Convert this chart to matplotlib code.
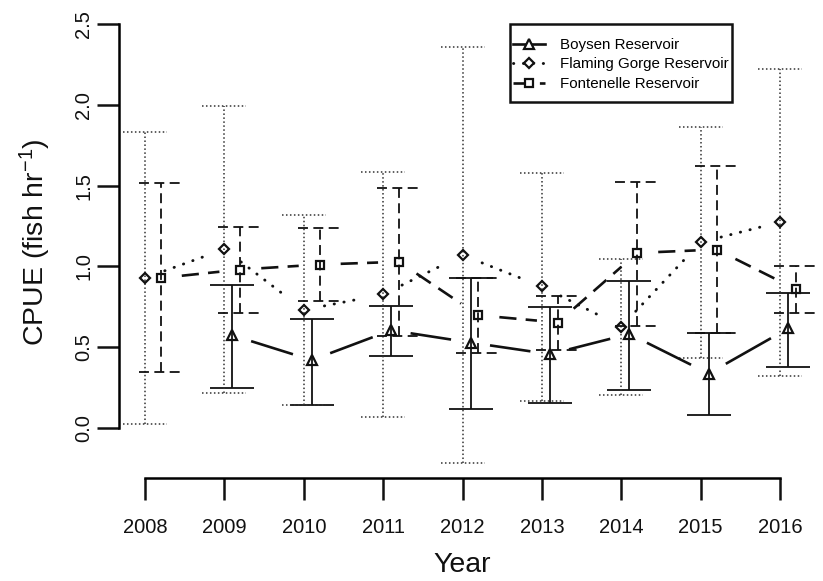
import numpy as np
import matplotlib
matplotlib.use("Agg")
import matplotlib.pyplot as plt
from matplotlib.lines import Line2D
from matplotlib.patches import Rectangle

# ---------------- data ----------------
years = [2008, 2009, 2010, 2011, 2012, 2013, 2014, 2015, 2016]

boysen_mean = [np.nan, 0.574, 0.420, 0.605, 0.529, 0.457, 0.582, 0.337, 0.616]
boysen_lo   = [np.nan, 0.250, 0.145, 0.444, 0.118, 0.157, 0.238, 0.080, 0.378]
boysen_hi   = [np.nan, 0.886, 0.673, 0.754, 0.926, 0.748, 0.909, 0.585, 0.838]

fg_mean = [0.929, 1.107, 0.731, 0.827, 1.070, 0.876, 0.628, 1.150, 1.275]
fg_lo   = [0.027, 0.217, 0.140, 0.068, -0.220, 0.170, 0.207, 0.436, 0.322]
fg_hi   = [1.830, 1.993, 1.318, 1.586, 2.358, 1.576, 1.045, 1.865, 2.222]

font_mean = [0.929, 0.981, 1.012, 1.029, 0.698, 0.653, 1.084, 1.105, 0.859]
font_lo   = [0.347, 0.713, 0.787, 0.572, 0.465, 0.481, 0.634, 0.589, 0.711]
font_hi   = [1.514, 1.245, 1.239, 1.487, 0.930, 0.818, 1.524, 1.623, 1.004]

series_names = ["Boysen Reservoir", "Flaming Gorge Reservoir", "Fontenelle Reservoir"]
y_ticks = [0.0, 0.5, 1.0, 1.5, 2.0, 2.5]
y_tick_labels = ["0.0", "0.5", "1.0", "1.5", "2.0", "2.5"]
x_tick_labels = [str(y) for y in years]

# ---------------- style ----------------
plt.rcParams["font.family"] = ["Liberation Sans", "DejaVu Sans"]
plt.rcParams["mathtext.fontset"] = "custom"
plt.rcParams["mathtext.rm"] = "Liberation Sans"
plt.rcParams["mathtext.it"] = "Liberation Sans:italic"

W, H = 823, 581
fig = plt.figure(figsize=(W / 100, H / 100), dpi=100)
left_px, right_px, top_px, bottom_px = 119.3, 823.0, 6.8, 477.7
ax = fig.add_axes([left_px / W, 1 - bottom_px / H,
                   (right_px - left_px) / W, (bottom_px - top_px) / H])
ax.set_xlim(2007.676, 2016.54)
ax.set_ylim(-0.308, 2.608)

for s in ["top", "right"]:
    ax.spines[s].set_visible(False)
ax.spines["left"].set_bounds(0, 2.5)
ax.spines["bottom"].set_bounds(years[0], years[-1])
for s in ["left", "bottom"]:
    ax.spines[s].set_linewidth(1.8)

ax.set_xticks(years)
ax.set_xticklabels(x_tick_labels)
ax.set_yticks(y_ticks)
ax.set_yticklabels(y_tick_labels, rotation=90, va="center")
ax.tick_params(direction="out", length=15.8, width=1.8, labelsize=14.5,
               colors="#111111")
ax.tick_params(axis="x", pad=13)
ax.tick_params(axis="y", pad=3)

x = np.array(years, dtype=float)
offsets = [0.1, 0.0, 0.2]
cap = 0.277
means = [boysen_mean, fg_mean, font_mean]
los = [boysen_lo, fg_lo, font_lo]
his = [boysen_hi, fg_hi, font_hi]
markers = ["^", "D", "s"]
msizes = [7.5, 5.4, 5.4]
conn_ls = ["-", (0, (0.1, 3.3)), (0, (6.5, 3.5))]
conn_lw = [1.9, 2.1, 1.9]
eb_ls = ["-", (0, (1, 1.6)), (0, (5.5, 3))]
eb_lw = [1.3, 1.1, 1.3]
eb_col = ["#111111", "#333333", "#111111"]


def gapped_segments(xs, ys, gap_px, **kw):
    pts = ax.transData.transform(np.column_stack([xs, ys]))
    inv = ax.transData.inverted()
    for i in range(len(xs) - 1):
        p0, p1 = pts[i], pts[i + 1]
        if np.any(np.isnan(p0)) or np.any(np.isnan(p1)):
            continue
        d = p1 - p0
        L = np.hypot(*d)
        if L <= 2 * gap_px:
            continue
        u = d / L
        a = inv.transform(np.array([p0 + u * gap_px, p1 - u * gap_px]))
        ax.plot(a[:, 0], a[:, 1], color="#111111", **kw)


for k in range(3):
    xs = x + offsets[k]
    m = np.array(means[k], dtype=float)
    lo = np.array(los[k], dtype=float)
    hi = np.array(his[k], dtype=float)
    ok = ~np.isnan(m)
    # error bars
    ax.vlines(xs[ok], lo[ok], hi[ok], colors=eb_col[k], linestyles=eb_ls[k],
              linewidth=eb_lw[k], zorder=2)
    ax.hlines(lo[ok], xs[ok] - cap, xs[ok] + cap, colors=eb_col[k],
              linestyles=eb_ls[k], linewidth=eb_lw[k], zorder=2)
    ax.hlines(hi[ok], xs[ok] - cap, xs[ok] + cap, colors=eb_col[k],
              linestyles=eb_ls[k], linewidth=eb_lw[k], zorder=2)
    # connecting lines with gaps around the points
    kw = dict(linestyle=conn_ls[k], linewidth=conn_lw[k], zorder=3)
    if k == 1:
        kw["dash_capstyle"] = "round"
    gapped_segments(xs[ok], m[ok], 21, **kw)
    # markers
    ax.plot(xs[ok], m[ok], linestyle="none", marker=markers[k], ms=msizes[k],
            mfc="none", mec="#111111", mew=1.6, zorder=4)

handles = []
for k in range(3):
    h = Line2D([], [], color="#111111", linestyle=conn_ls[k], linewidth=conn_lw[k],
               marker=markers[k], ms=msizes[k], mfc="white", mec="#111111", mew=1.6)
    if k == 1:
        h.set_dash_capstyle("round")
    handles.append(h)
leg = ax.legend(handles, series_names, loc="upper left",
                bbox_to_anchor=(513 / W, 1 - 38 / H), bbox_transform=fig.transFigure,
                fontsize=10.9, frameon=False, borderpad=0, handlelength=2.1,
                handletextpad=1.0, labelspacing=0.36, borderaxespad=0)
fig.patches.append(Rectangle((510 / W, 1 - 101.7 / H), 222.3 / W, 77.7 / H,
                             transform=fig.transFigure, fill=False,
                             edgecolor="#111111", linewidth=1.8))

fig.text(35 / W, 1 - 242 / H, "CPUE (fish hr$^{-1}$)", rotation=90,
         ha="center", va="center", fontsize=20.5, color="#111111")
fig.text(462.5 / W, 1 - 565 / H, "Year", ha="center", va="center",
         fontsize=20.5, color="#111111")

fig.savefig("out.png", dpi=100)
